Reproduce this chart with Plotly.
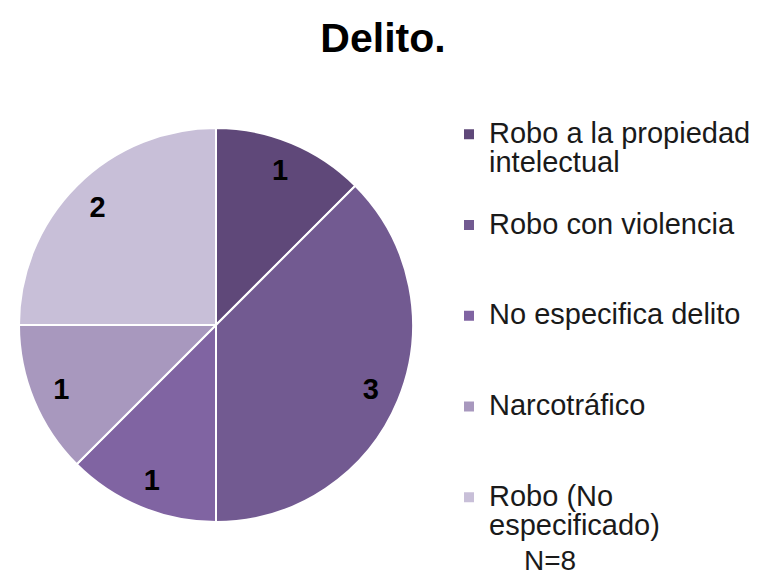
import plotly.graph_objects as go

categories = ["Robo a la propiedad<br>intelectual", "Robo con violencia", "No especifica delito",
              "Narcotráfico", "Robo (No<br>especificado)"]
values = [1, 3, 1, 1, 2]
colors = ["#5F4879", "#725A91", "#8064A2", "#A898BE", "#C8BFD8"]
extra_blank = [1, 2, 2, 2, 0]
title_text = "Delito."
note_text = "N=8"

W, H = 757, 576
OFF = 8  # page body margin
legend_labels = [
    "<span style='font-size:29px'>" + c.replace("<br>", "</span><br><span style='font-size:29px'>") + "</span>"
    + "<br>\u00a0" * b
    for c, b in zip(categories, extra_blank)
]

dom = dict(x=[(19 - OFF) / W, (413 - OFF) / W], y=[1 - (522 - OFF) / H, 1 - (128 - OFF) / H])

fig = go.Figure()
fig.add_trace(go.Pie(
    labels=legend_labels,
    values=values,
    sort=False,
    direction="clockwise",
    rotation=0,
    marker=dict(colors=colors, line=dict(color="white", width=2)),
    textinfo="none",
    domain=dom,
    hoverinfo="skip",
))
# transparent ring only used to place value labels near the rim
fig.add_trace(go.Pie(
    labels=legend_labels,
    values=values,
    sort=False,
    direction="clockwise",
    rotation=0,
    hole=0.7,
    marker=dict(colors=["rgba(0,0,0,0)"] * len(values), line=dict(width=0)),
    textinfo="value",
    textposition="inside",
    insidetextorientation="horizontal",
    textfont=dict(family="Arial, Liberation Sans, sans-serif", size=29, color="black", weight="bold"),
    domain=dom,
    hoverinfo="skip",
    showlegend=False,
))

fig.update_layout(
    width=W, height=H,
    margin=dict(l=0, r=0, t=0, b=0),
    paper_bgcolor="white",
    font=dict(family="Arial, Liberation Sans, sans-serif", color="black"),
    title=dict(text="<b>" + title_text + "</b>", x=(383 - OFF) / W, xanchor="center", xref="paper",
               y=1 - (38 - OFF) / H, yanchor="middle", yref="paper",
               font=dict(size=41, color="black")),
    showlegend=True,
    legend=dict(x=(449 - OFF) / W, xanchor="left", xref="paper",
                y=1 - (113 - OFF) / H, yanchor="top", yref="paper",
                font=dict(size=22.5, color="#1a1a1a"), valign="top",
                bgcolor="rgba(0,0,0,0)", traceorder="normal"),
    annotations=[dict(text=note_text, x=(550 - OFF) / W, y=1 - (560 - OFF) / H, xref="paper", yref="paper",
                      showarrow=False, font=dict(size=28, color="#1a1a1a"),
                      xanchor="center", yanchor="middle")],
)

fig.write_html("out.html")
